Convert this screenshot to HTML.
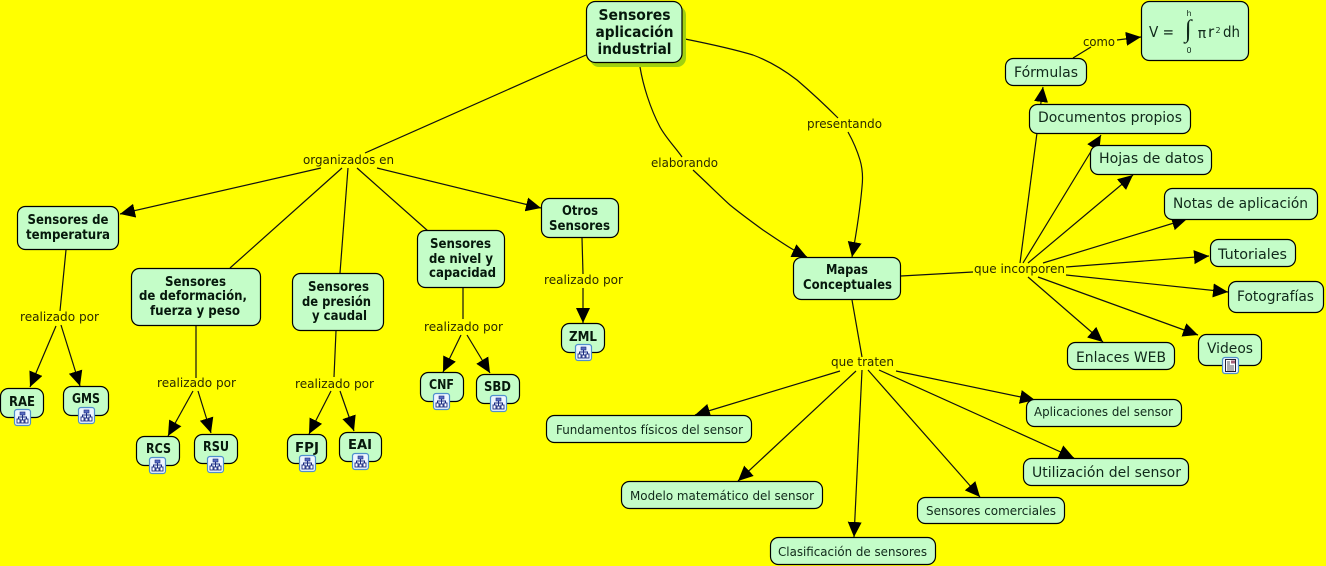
<!DOCTYPE html>
<html><head><meta charset="utf-8"><style>
html,body{margin:0;padding:0;background:#ff0;width:1326px;height:566px;overflow:hidden}
svg{display:block}
text{font-family:"DejaVu Sans","Liberation Sans",sans-serif;text-anchor:middle}
.n rect{fill:#c4fdc8;stroke:#000;stroke-width:1.2}
.l{fill:none;stroke:#111;stroke-width:1.2}
.a{marker-end:url(#ar)}
.b{font-weight:bold;font-size:13px;fill:#06180c}
.r{font-size:14.5px;fill:#10281a}
.s{font-size:12.5px;fill:#10281a}
.t{font-size:12.5px;fill:#2a2a00}
</style></head><body>
<svg width="1326" height="566" viewBox="0 0 1326 566" xmlns="http://www.w3.org/2000/svg">
<defs>
<marker id="ar" markerUnits="userSpaceOnUse" markerWidth="16" markerHeight="15" refX="15" refY="7" orient="auto"><path d="M0 0L15 7L0 14Z" fill="#000"/></marker>
<g id="ic"><rect x=".5" y=".5" width="16" height="16" rx="2.5" fill="#eef6ff" stroke="#4f8fcc" stroke-width="1.2"/><path d="M8.5 4V12M4.5 11V8H12.5V11" fill="none" stroke="#1a2a80"/><rect x="6" y="3" width="5" height="3" fill="#5a6cc0" stroke="#1a2a80" stroke-width=".6"/><rect x="3" y="10" width="3" height="4" fill="#fff" stroke="#1a2a80" stroke-width=".9"/><rect x="7" y="11" width="3" height="3" fill="#fff" stroke="#1a2a80" stroke-width=".9"/><rect x="11" y="10" width="3" height="4" fill="#fff" stroke="#1a2a80" stroke-width=".9"/></g>
<g id="doc"><rect x=".5" y=".5" width="16" height="16" rx="2.5" fill="#eef6ff" stroke="#4f8fcc" stroke-width="1.2"/><path d="M3.5 2.5H13.5V14.5H3.5Z" fill="#fff" stroke="#223"/><rect x="9" y="3.5" width="4" height="3" fill="#a5607a"/><path d="M5 5H8M5 7H8M5 9H12M5 11H12M5 13H12" stroke="#223" stroke-width=".8"/></g>
</defs>
<rect width="1326" height="566" fill="#ff0"/>

<g class="l">
<path d="M586 55L365 153"/>
<path class="a" d="M321 168L120 214"/>
<path d="M342 168L230 268"/>
<path d="M348 168L340 273"/>
<path d="M357 168L428 231"/>
<path class="a" d="M377 168L541 208"/>
<path d="M66 250L60 311"/>
<path class="a" d="M56 326L30 387"/>
<path class="a" d="M61 325L80 386"/>
<path d="M196 326L196 378"/>
<path class="a" d="M193 391L168 436"/>
<path class="a" d="M198 391L211 433"/>
<path d="M336 331L334 377"/>
<path class="a" d="M331 391L309 434"/>
<path class="a" d="M340 391L354 431"/>
<path d="M463 288L463 319"/>
<path class="a" d="M461 335L443 372"/>
<path class="a" d="M467 335L490 373"/>
<path d="M582 238L583 274"/>
<path class="a" d="M583 288L583 323"/>
<path d="M640 67C643 85 650 108 660 127C666 138 675 147 682 157"/>
<path class="a" d="M693 170C706 182 718 194 730 205C741 214 752 222 763 230C778 240 792 250 807 257"/>
<path d="M685 39C710 44 733 49 753 55C769 61 784 70 797 80C811 92 825 105 838 118"/>
<path class="a" d="M848 132C853 141 857 150 860 160C863 170 863 178 862 187C860 210 856 235 852 257"/>
<path d="M901 276L973 272"/>
<path class="a" d="M1020 263L1043 87"/>
<path class="a" d="M1023 263L1101 135"/>
<path class="a" d="M1028 263L1133 175"/>
<path class="a" d="M1043 263L1187 219"/>
<path class="a" d="M1066 267L1209 256"/>
<path class="a" d="M1066 275L1228 292"/>
<path class="a" d="M1038 277L1198 335"/>
<path class="a" d="M1028 277L1103 342"/>
<path d="M852 300L862 357"/>
<path class="a" d="M840 371L695 415"/>
<path class="a" d="M856 371L738 481"/>
<path class="a" d="M862 370L854 537"/>
<path class="a" d="M868 370L980 497"/>
<path class="a" d="M879 370L1074 458"/>
<path class="a" d="M896 371L1035 400"/>
<path d="M1073 58L1091 47"/>
<path class="a" d="M1117 40L1141 37"/>
</g>

<rect x="590" y="6" width="96" height="61" rx="9" fill="#a0d010"/>
<g class="n">
<rect x="586.5" y="1.5" width="95.5" height="61" rx="9"/>
<rect x="17.5" y="206.5" width="101" height="43" rx="8"/>
<rect x="131.5" y="268.5" width="129" height="57" rx="8"/>
<rect x="292.5" y="273.5" width="91" height="57" rx="8"/>
<rect x="417.5" y="230.5" width="87" height="57" rx="8"/>
<rect x="541.5" y="198.5" width="77" height="39" rx="8"/>
<rect x=".5" y="388.5" width="43" height="29" rx="8"/>
<rect x="63.5" y="386.5" width="45" height="29" rx="8"/>
<rect x="136.5" y="436.5" width="43" height="29" rx="8"/>
<rect x="194.5" y="434.5" width="43" height="29" rx="8"/>
<rect x="287.5" y="434.5" width="39" height="29" rx="8"/>
<rect x="339.5" y="432.5" width="42" height="29" rx="8"/>
<rect x="420.5" y="372.5" width="43" height="29" rx="8"/>
<rect x="476.5" y="374.5" width="43" height="29" rx="8"/>
<rect x="561.5" y="323.5" width="43" height="29" rx="8"/>
<rect x="793.5" y="257.5" width="107" height="42" rx="8"/>
<rect x="1005.5" y="58.5" width="81" height="27" rx="8"/>
<rect x="1141.5" y="1.5" width="107" height="59" rx="8"/>
<rect x="1029.5" y="104.5" width="161" height="29" rx="8"/>
<rect x="1090.5" y="145.5" width="121" height="29" rx="8"/>
<rect x="1164.5" y="188.5" width="153" height="31" rx="8"/>
<rect x="1210.5" y="239.5" width="85" height="27" rx="8"/>
<rect x="1228.5" y="281.5" width="95" height="31" rx="8"/>
<rect x="1198.5" y="334.5" width="63" height="31" rx="8"/>
<rect x="1067.5" y="342.5" width="107" height="27" rx="8"/>
<rect x="1026.5" y="399.5" width="155" height="27" rx="8"/>
<rect x="1023.5" y="458.5" width="165" height="27" rx="8"/>
<rect x="917.5" y="497.5" width="147" height="26" rx="8"/>
<rect x="770.5" y="537.5" width="165" height="27" rx="8"/>
<rect x="621.5" y="481.5" width="201" height="27" rx="8"/>
<rect x="546.5" y="415.5" width="205" height="27" rx="8"/>
</g>

<use href="#ic" x="14" y="409"/><use href="#ic" x="78" y="407"/>
<use href="#ic" x="149" y="457"/><use href="#ic" x="207" y="456"/>
<use href="#ic" x="299" y="455"/><use href="#ic" x="352" y="453"/>
<use href="#ic" x="433" y="393"/><use href="#ic" x="490" y="395"/>
<use href="#ic" x="575" y="344"/><use href="#doc" x="1222" y="357"/>

<g class="b" style="font-size:15px">
<text x="634.5" y="20" textLength="72" lengthAdjust="spacingAndGlyphs">Sensores</text>
<text x="634.5" y="37" textLength="78" lengthAdjust="spacingAndGlyphs">aplicación</text>
<text x="634.5" y="54" textLength="74" lengthAdjust="spacingAndGlyphs">industrial</text>
</g>
<g class="b">
<text x="68" y="224" textLength="81" lengthAdjust="spacingAndGlyphs">Sensores de</text>
<text x="68" y="239" textLength="84" lengthAdjust="spacingAndGlyphs">temperatura</text>
<text x="195.5" y="286" textLength="61" lengthAdjust="spacingAndGlyphs">Sensores</text>
<text x="193" y="300" textLength="108" lengthAdjust="spacingAndGlyphs">de deformación,</text>
<text x="195" y="315" textLength="90" lengthAdjust="spacingAndGlyphs">fuerza y peso</text>
<text x="338.5" y="291" textLength="61" lengthAdjust="spacingAndGlyphs">Sensores</text>
<text x="336.5" y="306" textLength="69" lengthAdjust="spacingAndGlyphs">de presión</text>
<text x="339.5" y="320" textLength="55" lengthAdjust="spacingAndGlyphs">y caudal</text>
<text x="460.5" y="248" textLength="61" lengthAdjust="spacingAndGlyphs">Sensores</text>
<text x="461" y="263" textLength="64" lengthAdjust="spacingAndGlyphs">de nivel y</text>
<text x="462.5" y="277" textLength="67" lengthAdjust="spacingAndGlyphs">capacidad</text>
<text x="580" y="215" textLength="36" lengthAdjust="spacingAndGlyphs">Otros</text>
<text x="579.5" y="230" textLength="61" lengthAdjust="spacingAndGlyphs">Sensores</text>
<text x="22" y="406" textLength="26" lengthAdjust="spacingAndGlyphs">RAE</text>
<text x="86" y="403" textLength="28" lengthAdjust="spacingAndGlyphs">GMS</text>
<text x="158.5" y="453" textLength="25" lengthAdjust="spacingAndGlyphs">RCS</text>
<text x="216" y="451" textLength="26" lengthAdjust="spacingAndGlyphs">RSU</text>
<text x="307" y="452" textLength="24" lengthAdjust="spacingAndGlyphs">FPJ</text>
<text x="360" y="449" textLength="24" lengthAdjust="spacingAndGlyphs">EAI</text>
<text x="441.5" y="389" textLength="25" lengthAdjust="spacingAndGlyphs">CNF</text>
<text x="497.5" y="391" textLength="27" lengthAdjust="spacingAndGlyphs">SBD</text>
<text x="583" y="341" textLength="28" lengthAdjust="spacingAndGlyphs">ZML</text>
<text x="847" y="274" textLength="42" lengthAdjust="spacingAndGlyphs">Mapas</text>
<text x="847.5" y="289" textLength="89" lengthAdjust="spacingAndGlyphs">Conceptuales</text>
</g>
<g class="r">
<text x="1046" y="77" textLength="64" lengthAdjust="spacingAndGlyphs">Fórmulas</text>
<text x="1110" y="122" textLength="144" lengthAdjust="spacingAndGlyphs">Documentos propios</text>
<text x="1151.5" y="163" textLength="105" lengthAdjust="spacingAndGlyphs">Hojas de datos</text>
<text x="1240.5" y="208" textLength="135" lengthAdjust="spacingAndGlyphs">Notas de aplicación</text>
<text x="1252.5" y="259" textLength="69" lengthAdjust="spacingAndGlyphs">Tutoriales</text>
<text x="1275.5" y="301" textLength="77" lengthAdjust="spacingAndGlyphs">Fotografías</text>
<text x="1230" y="353" textLength="46" lengthAdjust="spacingAndGlyphs">Videos</text>
<text x="1121" y="362" textLength="90" lengthAdjust="spacingAndGlyphs">Enlaces WEB</text>
<text x="1106.5" y="477" textLength="149" lengthAdjust="spacingAndGlyphs">Utilización del sensor</text>
<text x="1161.5" y="37" textLength="25" lengthAdjust="spacingAndGlyphs" style="font-size:15px">V =</text>
<text x="1188" y="37" style="font-size:25px;font-family:'Liberation Serif',serif">∫</text>
<text x="1202" y="38" style="font-size:14px">π</text>
<text x="1208" y="37" style="font-size:15px;text-anchor:start">r</text>
<text x="1218" y="33" style="font-size:8px">2</text>
<text x="1231.5" y="37" textLength="17" lengthAdjust="spacingAndGlyphs" style="font-size:15px">dh</text>
<text x="1189" y="16" style="font-size:8px">h</text>
<text x="1189" y="53" style="font-size:8px">0</text>
</g>
<g class="s">
<text x="1103.5" y="416" textLength="139" lengthAdjust="spacingAndGlyphs">Aplicaciones del sensor</text>
<text x="991" y="515" textLength="130" lengthAdjust="spacingAndGlyphs">Sensores comerciales</text>
<text x="852.5" y="556" textLength="149" lengthAdjust="spacingAndGlyphs">Clasificación de sensores</text>
<text x="722" y="500" textLength="184" lengthAdjust="spacingAndGlyphs">Modelo matemático del sensor</text>
<text x="649.5" y="434" textLength="187" lengthAdjust="spacingAndGlyphs">Fundamentos físicos del sensor</text>
</g>
<g class="t">
<text x="348.5" y="164" textLength="91" lengthAdjust="spacingAndGlyphs">organizados en</text>
<text x="684.5" y="167" textLength="67" lengthAdjust="spacingAndGlyphs">elaborando</text>
<text x="844.5" y="128" textLength="75" lengthAdjust="spacingAndGlyphs">presentando</text>
<text x="1019.5" y="273" textLength="91" lengthAdjust="spacingAndGlyphs">que incorporen</text>
<text x="862.5" y="366" textLength="63" lengthAdjust="spacingAndGlyphs">que traten</text>
<text x="1099" y="46" textLength="32" lengthAdjust="spacingAndGlyphs">como</text>
<text x="59.5" y="321" textLength="79" lengthAdjust="spacingAndGlyphs">realizado por</text>
<text x="196.5" y="387" textLength="79" lengthAdjust="spacingAndGlyphs">realizado por</text>
<text x="334.5" y="388" textLength="79" lengthAdjust="spacingAndGlyphs">realizado por</text>
<text x="463.5" y="331" textLength="79" lengthAdjust="spacingAndGlyphs">realizado por</text>
<text x="583.5" y="284" textLength="79" lengthAdjust="spacingAndGlyphs">realizado por</text>
</g>
</svg>
</body></html>
